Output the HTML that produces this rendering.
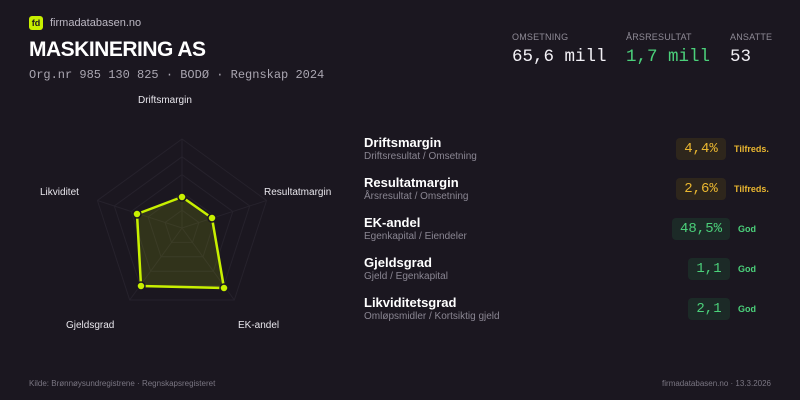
<!DOCTYPE html>
<html><head><meta charset="utf-8"><style>
*{margin:0;padding:0;box-sizing:border-box}
body{width:800px;height:400px;background:#1b1720;position:relative;overflow:hidden;font-family:"Liberation Sans",sans-serif;color:#fff}
.a{position:absolute;white-space:nowrap}
.mono{font-family:"Liberation Mono",monospace}
.lab{font-size:9px;color:#8f8b96;letter-spacing:.2px}
.t{font-size:13px;font-weight:bold;color:#fff}
.s{font-size:10px;color:#8a8692}
.b{position:absolute;height:22px;border-radius:4px;font-family:"Liberation Mono",monospace;font-size:14px;line-height:22px;text-align:center}
.y{background:#2e261c;color:#e9b630}
.g{background:#1c2a27;color:#4bd07a}
.st{font-size:9px;font-weight:bold}
.rl{font-size:10px;color:#e8e6ec}
</style></head><body>
<div class="a" style="left:29px;top:16px;width:14px;height:14px;background:#c8f000;border-radius:3px;color:#1b1720;font-size:9px;font-weight:bold;line-height:14px;text-align:center">fd</div>
<div class="a" style="left:50px;top:17px;font-size:11px;color:#bdb9c4">firmadatabasen.no</div>
<div class="a" style="left:29px;top:38px;font-size:21px;font-weight:bold;letter-spacing:-.5px">MASKINERING AS</div>
<div class="a mono" style="left:29px;top:68px;font-size:12px;color:#aaa6b1">Org.nr 985 130 825 · BODØ · Regnskap 2024</div>

<div class="a lab" style="left:512px;top:32px">OMSETNING</div>
<div class="a lab" style="left:626px;top:32px">ÅRSRESULTAT</div>
<div class="a lab" style="left:730px;top:32px">ANSATTE</div>
<div class="a mono" style="left:512px;top:47px;font-size:17.5px;color:#f2f0f5">65,6 mill</div>
<div class="a mono" style="left:626px;top:47px;font-size:17.5px;color:#4bd07a">1,7 mill</div>
<div class="a mono" style="left:730px;top:47px;font-size:17.5px;color:#f2f0f5">53</div>

<svg class="a" style="left:0;top:0" width="360" height="360">
<g fill="none" stroke="#26222c" stroke-width="1">
<polygon points="182,139 266.6,200.5 234.3,300 129.7,300 97.4,200.5"/>
<polygon points="182,156.8 249.7,206 223.8,285.6 140.2,285.6 114.3,206"/>
<polygon points="182,174.6 232.8,211.5 213.4,271.2 150.6,271.2 131.2,211.5"/>
<polygon points="182,192.4 215.9,217 203,256.8 161,256.8 148.1,217"/>
<polygon points="182,210.2 198.9,222.5 192.5,242.4 171.5,242.4 165.1,222.5"/>
<line x1="182" y1="228" x2="182" y2="139"/><line x1="182" y1="228" x2="266.6" y2="200.5"/><line x1="182" y1="228" x2="234.3" y2="300"/><line x1="182" y1="228" x2="129.7" y2="300"/><line x1="182" y1="228" x2="97.4" y2="200.5"/>
</g>
<polygon points="182,197 212,218 224,288 141,286 137,214" fill="rgba(200,240,0,0.13)" stroke="#c8f000" stroke-width="2.5" stroke-linejoin="round"/>
<g fill="#c8f000" stroke="#1b1720" stroke-width="1.5">
<circle cx="182" cy="197" r="4"/><circle cx="212" cy="218" r="4"/><circle cx="224" cy="288" r="4"/><circle cx="141" cy="286" r="4"/><circle cx="137" cy="214" r="4"/>
</g>
</svg>
<div class="a rl" style="left:138px;top:95px">Driftsmargin</div>
<div class="a rl" style="left:264px;top:187px">Resultatmargin</div>
<div class="a rl" style="left:40px;top:187px">Likviditet</div>
<div class="a rl" style="left:66px;top:320px">Gjeldsgrad</div>
<div class="a rl" style="left:238px;top:320px">EK-andel</div>

<div class="a t" style="left:364px;top:135px">Driftsmargin</div>
<div class="a s" style="left:364px;top:151px">Driftsresultat / Omsetning</div>
<div class="a t" style="left:364px;top:175px">Resultatmargin</div>
<div class="a s" style="left:364px;top:191px">Årsresultat / Omsetning</div>
<div class="a t" style="left:364px;top:215px">EK-andel</div>
<div class="a s" style="left:364px;top:231px">Egenkapital / Eiendeler</div>
<div class="a t" style="left:364px;top:255px">Gjeldsgrad</div>
<div class="a s" style="left:364px;top:271px">Gjeld / Egenkapital</div>
<div class="a t" style="left:364px;top:295px">Likviditetsgrad</div>
<div class="a s" style="left:364px;top:311px">Omløpsmidler / Kortsiktig gjeld</div>

<div class="b y" style="left:676px;top:138px;width:50px">4,4%</div>
<div class="b y" style="left:676px;top:178px;width:50px">2,6%</div>
<div class="b g" style="left:672px;top:218px;width:58px">48,5%</div>
<div class="b g" style="left:688px;top:258px;width:42px">1,1</div>
<div class="b g" style="left:688px;top:298px;width:42px">2,1</div>
<div class="a st" style="left:734px;top:144px;color:#e9b630">Tilfreds.</div>
<div class="a st" style="left:734px;top:184px;color:#e9b630">Tilfreds.</div>
<div class="a st" style="left:738px;top:224px;color:#4bd07a">God</div>
<div class="a st" style="left:738px;top:264px;color:#4bd07a">God</div>
<div class="a st" style="left:738px;top:304px;color:#4bd07a">God</div>

<div class="a" style="left:29px;top:379px;font-size:8px;color:#7a7682">Kilde: Brønnøysundregistrene · Regnskapsregisteret</div>
<div class="a" style="right:29px;top:379px;font-size:8px;color:#7a7682">firmadatabasen.no · 13.3.2026</div>
</body></html>
